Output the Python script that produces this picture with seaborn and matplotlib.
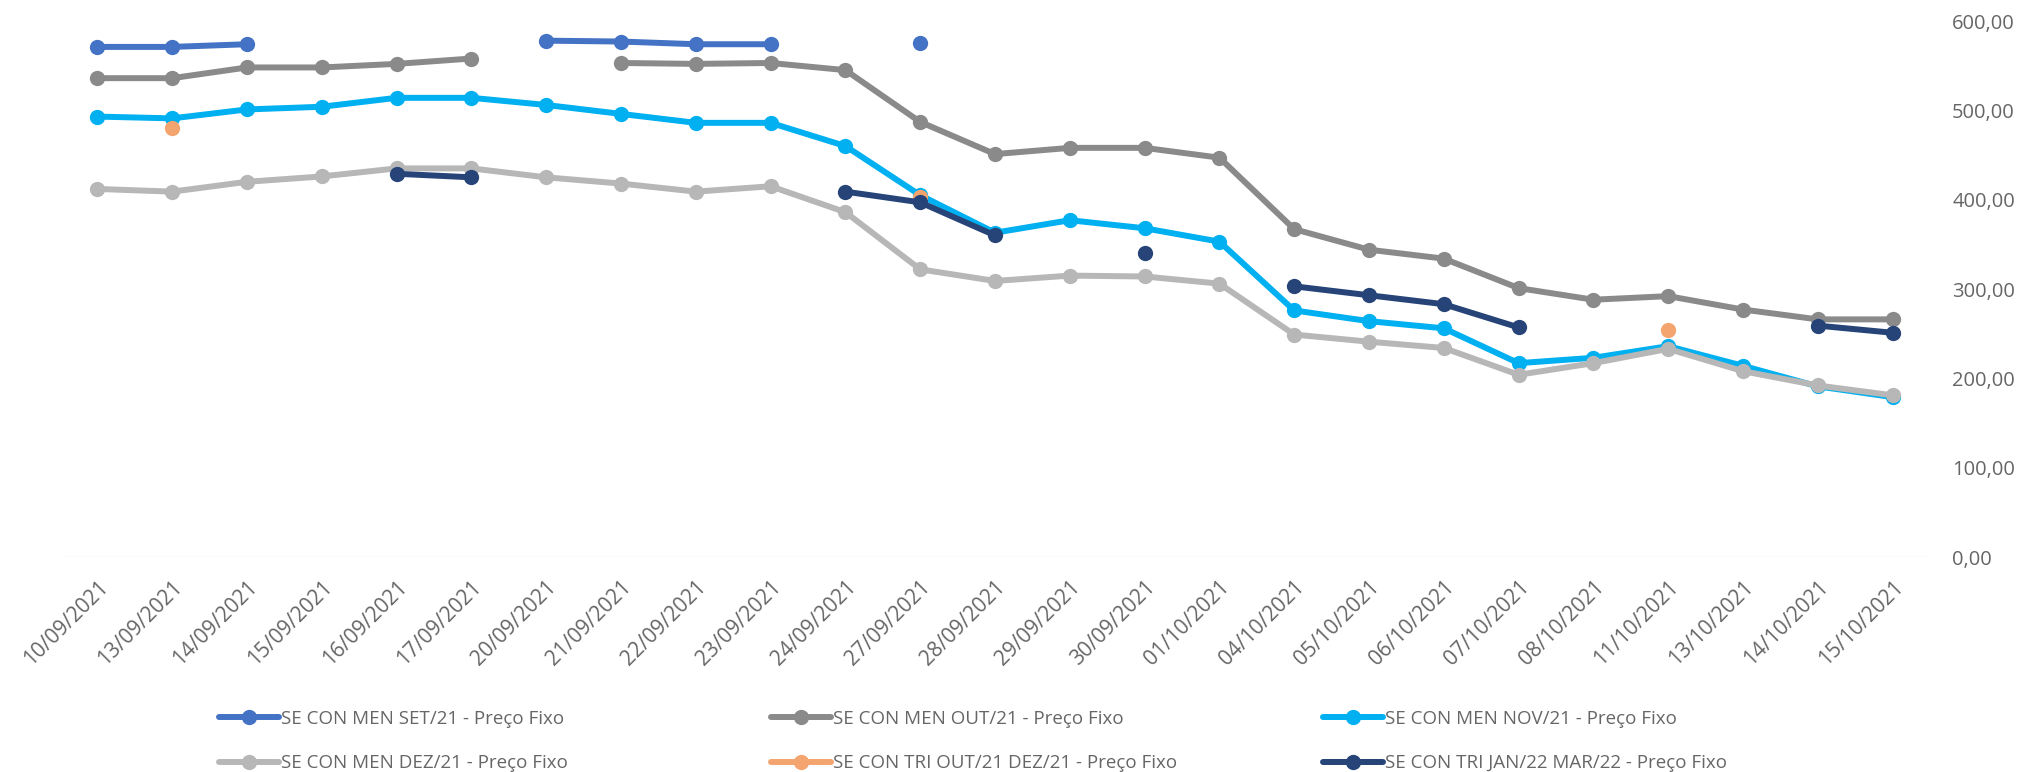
import numpy as np
import pandas as pd
import matplotlib
matplotlib.use('agg')
import matplotlib.pyplot as plt
from matplotlib.lines import Line2D
import seaborn as sns

nan = np.nan

dates = ["10/09/2021", "13/09/2021", "14/09/2021", "15/09/2021", "16/09/2021",
         "17/09/2021", "20/09/2021", "21/09/2021", "22/09/2021", "23/09/2021",
         "24/09/2021", "27/09/2021", "28/09/2021", "29/09/2021", "30/09/2021",
         "01/10/2021", "04/10/2021", "05/10/2021", "06/10/2021", "07/10/2021",
         "08/10/2021", "11/10/2021", "13/10/2021", "14/10/2021", "15/10/2021"]

series_names = ["SE CON MEN SET/21 - Preço Fixo",
                "SE CON MEN OUT/21 - Preço Fixo",
                "SE CON MEN NOV/21 - Preço Fixo",
                "SE CON MEN DEZ/21 - Preço Fixo",
                "SE CON TRI OUT/21 DEZ/21 - Preço Fixo",
                "SE CON TRI JAN/22 MAR/22 - Preço Fixo"]

men_set = [571, 571, 574, nan, nan, nan, 578, 577, 574, 574, nan, 575, nan,
           nan, nan, nan, nan, nan, nan, nan, nan, nan, nan, nan, nan]
men_out = [536, 536, 548, 548, 552, 558, nan, 553, 552, 553, 545, 487, 451,
           458, 458, 447, 367, 344, 334, 301, 288, 292, 277, 266, 266]
men_nov = [493, 491, 501, 504, 514, 514, 506, 496, 486, 486, 460, 405, 363,
           377, 368, 353, 276, 264, 256, 217, 223, 236, 214, 191, 179]
men_dez = [412, 409, 420, 426, 435, 435, 425, 418, 409, 415, 386, 322, 309,
           315, 314, 306, 249, 241, 234, 204, 217, 233, 208, 192, 181]
tri_out_dez = [nan, 480, nan, nan, nan, nan, nan, nan, nan, nan, nan, 403, nan,
               nan, nan, nan, nan, nan, nan, nan, nan, 254, nan, nan, nan]
tri_jan_mar = [nan, nan, nan, nan, 429, 425, nan, nan, nan, nan, 409, 397, 360,
               nan, 340, nan, 303, 293, 283, 257, nan, nan, nan, 259, 251]

colors = ["#4472C4", "#8A8A8A", "#00B0F0", "#B7B7B7", "#F4A46E", "#264478"]

all_values = [men_set, men_out, men_nov, men_dez, tri_out_dez, tri_jan_mar]

# long table, one "seg" per unbroken run so gaps stay gaps
rows = []
for name, vals in zip(series_names, all_values):
    seg = 0
    prev_ok = False
    for i, v in enumerate(vals):
        if np.isnan(v):
            prev_ok = False
            continue
        if not prev_ok:
            seg += 1
        rows.append({"pos": i, "valor": v, "serie": name, "seg": seg})
        prev_ok = True
df = pd.DataFrame(rows)

sns.set_style("white")
plt.rcParams['font.family'] = ['Open Sans', 'DejaVu Sans']
txt_color = "#666666"

fig = plt.figure(figsize=(20.22, 7.72), dpi=100)
ax = fig.add_axes([60 / 2022, 1 - 557 / 772, 1870 / 2022, 536 / 772])

sns.lineplot(data=df, x="pos", y="valor", hue="serie", units="seg", estimator=None,
             hue_order=series_names, palette=colors, marker="o", markersize=11,
             markeredgewidth=0, linewidth=4.3, legend=False, ax=ax)

ax.set_xlim(-0.5, len(dates) - 0.5)
ax.set_ylim(0, 600)
ax.axhline(0, color="#EEEEEE", lw=1, zorder=0)
ax.set_xticks(range(len(dates)))
ax.set_xticklabels(dates, rotation=45, ha="right", rotation_mode="anchor")
ax.set_yticks(range(0, 601, 100))
ax.set_yticklabels([f"{v},00" for v in range(0, 601, 100)])
ax.yaxis.tick_right()
ax.tick_params(axis="y", length=0, pad=16, labelsize=14.5, labelcolor=txt_color)
ax.tick_params(axis="x", length=0, pad=14, labelsize=15, labelcolor=txt_color)
ax.set_xlabel("")
ax.set_ylabel("")
sns.despine(ax=ax, left=True, right=True, top=True, bottom=True)

handles = [Line2D([], [], color=c, lw=4.3, marker="o", markersize=11, markeredgewidth=0)
           for c in colors]
col_x = [219, 771, 1323]
for k in range(3):
    leg = fig.legend([handles[k], handles[k + 3]], [series_names[k], series_names[k + 3]],
                     loc="upper left", bbox_to_anchor=(col_x[k] / 2022, 1 - 710 / 772),
                     frameon=False, fontsize=13.5, handlelength=3.2, handletextpad=0.1,
                     labelspacing=1.4, borderpad=0, borderaxespad=0)
    for t in leg.get_texts():
        t.set_color(txt_color)

plt.savefig("out.png", dpi=100)
plt.close()
